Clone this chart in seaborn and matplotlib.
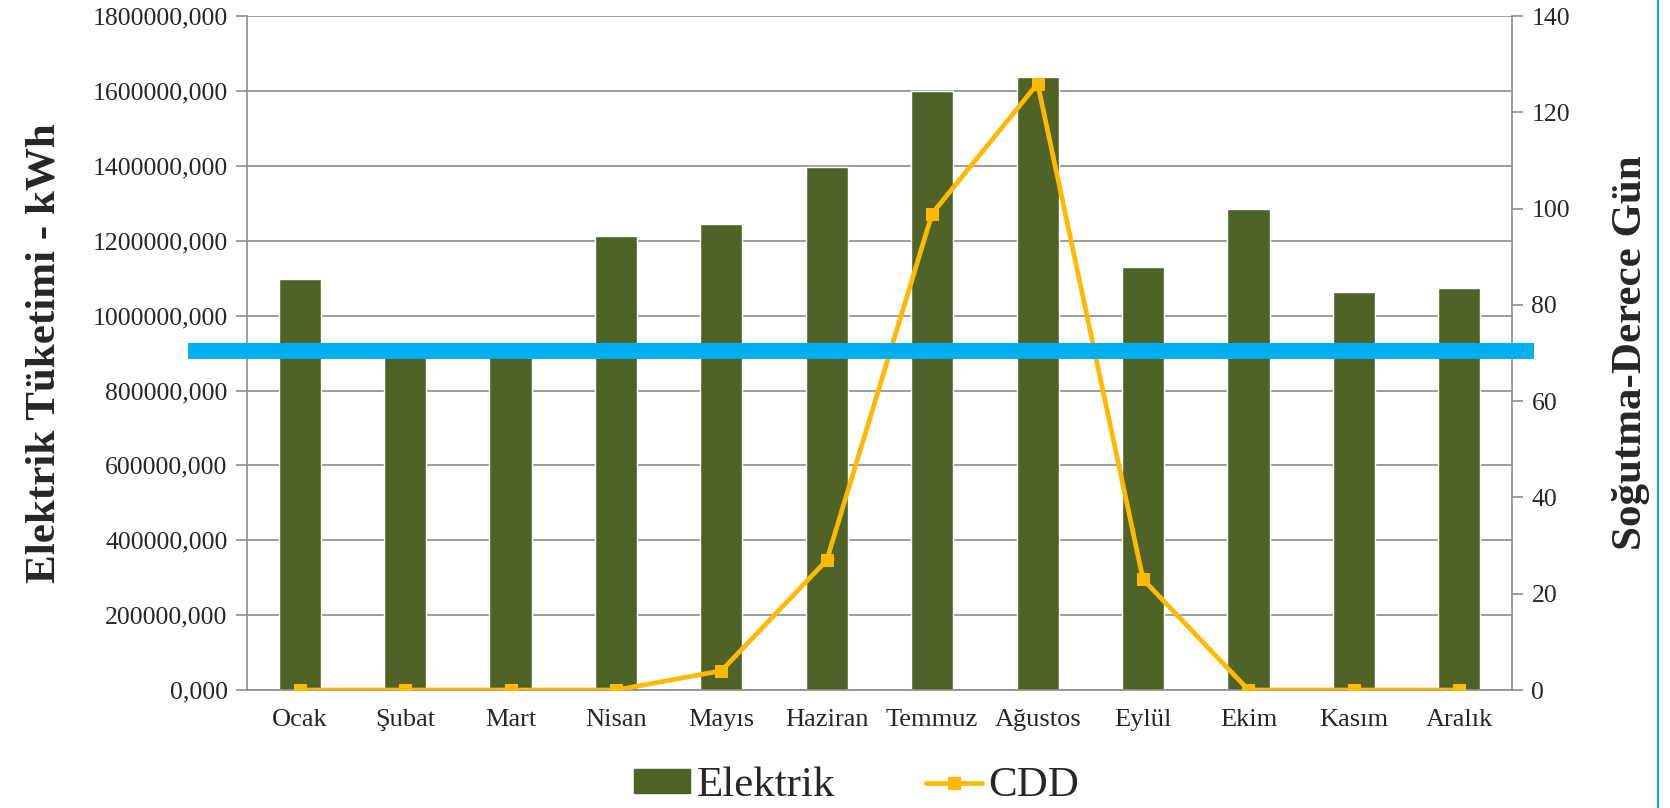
import numpy as np
import matplotlib
matplotlib.use("Agg")
import matplotlib.pyplot as plt
from matplotlib.lines import Line2D
import pandas as pd
import seaborn as sns

# data
months = ['Ocak', 'Şubat', 'Mart', 'Nisan', 'Mayıs', 'Haziran', 'Temmuz',
          'Ağustos', 'Eylül', 'Ekim', 'Kasım', 'Aralık']
elektrik = [1098000, 900000, 900000, 1214000, 1245000, 1396000, 1601000,
            1637000, 1131000, 1285000, 1062000, 1075000]
cdd = [0, 0, 0, 0, 4, 27, 99, 126, 23, 0, 0, 0]
left_ticks = np.arange(0, 1800001, 200000)
right_ticks = np.arange(0, 141, 20)
ref_level = 70.4  # blue horizontal line (right axis)

df = pd.DataFrame({'ay': months, 'Elektrik': elektrik, 'CDD': cdd})

sns.set_style('white')
plt.rcParams['font.family'] = ['Liberation Serif', 'DejaVu Serif']

bar_col = '#4F6228'
line_col = '#FFB900'
grid_col = '#8C8C8C'

fig = plt.figure(figsize=(16.7, 8.08), dpi=100)
ax = fig.add_axes([0.1479, 0.146, 0.7575, 0.834])

sns.barplot(data=df, x='ay', y='Elektrik', color=bar_col, saturation=1,
            width=0.4, ax=ax, zorder=2)
ax.set_ylim(0, 1800000)
ax.set_yticks(left_ticks)
ax.set_yticklabels([f'{int(v)},000' for v in left_ticks])
ax.yaxis.grid(True, color=grid_col, lw=1.2, zorder=0)
ax.set_axisbelow(True)
ax.set_xlim(-0.5, 11.5)
ax.set_xticks(np.arange(-0.5, 12, 1), minor=True)
ax.set_xlabel('')
ax.set_ylabel('Elektrik Tüketimi - kWh', fontsize=31, fontweight='bold', labelpad=21)
ax.tick_params(axis='y', length=8, width=1.2, color=grid_col, labelsize=18.5, pad=6)
ax.tick_params(axis='x', which='major', length=0, labelsize=19, pad=14)
ax.tick_params(axis='x', which='minor', length=8, width=1.2, color=grid_col)
for s in ['left', 'bottom']:
    ax.spines[s].set_color(grid_col)
    ax.spines[s].set_linewidth(1.2)
ax.spines['top'].set_visible(False)
ax.spines['right'].set_visible(False)

ax2 = ax.twinx()
sns.lineplot(x=np.arange(len(months)), y=cdd, ax=ax2, color=line_col, lw=3.4,
             marker='s', markersize=8.5, markeredgecolor=line_col, sort=False,
             legend=False, zorder=4)
ax2.set_ylim(0, 140)
ax2.set_yticks(right_ticks)
ax2.set_ylabel('Soğutma-Derece Gün', fontsize=31, fontweight='bold', labelpad=30)
ax2.tick_params(axis='y', length=8, width=1.2, color=grid_col, labelsize=18.5, pad=6)
ax2.spines['right'].set_color(grid_col)
ax2.spines['right'].set_linewidth(1.2)
for s in ['top', 'left', 'bottom']:
    ax2.spines[s].set_visible(False)
ax2.grid(False)

# blue reference line, reaching past both axes
ax2.axhline(ref_level, xmin=-0.0466, xmax=1.0174, color='#00B0F0', lw=11.5,
            solid_capstyle='butt', clip_on=False, zorder=5)

# thin blue border at the right edge
fig.add_artist(Line2D([0.9928, 0.9928], [0, 1], color='#00B0F0', lw=1.5))

handles = [plt.Rectangle((0, 0), 1, 1, color=bar_col),
           Line2D([], [], color=line_col, lw=3.4, marker='s', markersize=8.5)]
fig.legend(handles, ['Elektrik', 'CDD'], loc='center', bbox_to_anchor=(0.513, 0.027),
           ncol=2, frameon=False, fontsize=31, handlelength=1.3, handleheight=0.5,
           columnspacing=2.1, handletextpad=0.15)

fig.savefig('out.png', dpi=100)
